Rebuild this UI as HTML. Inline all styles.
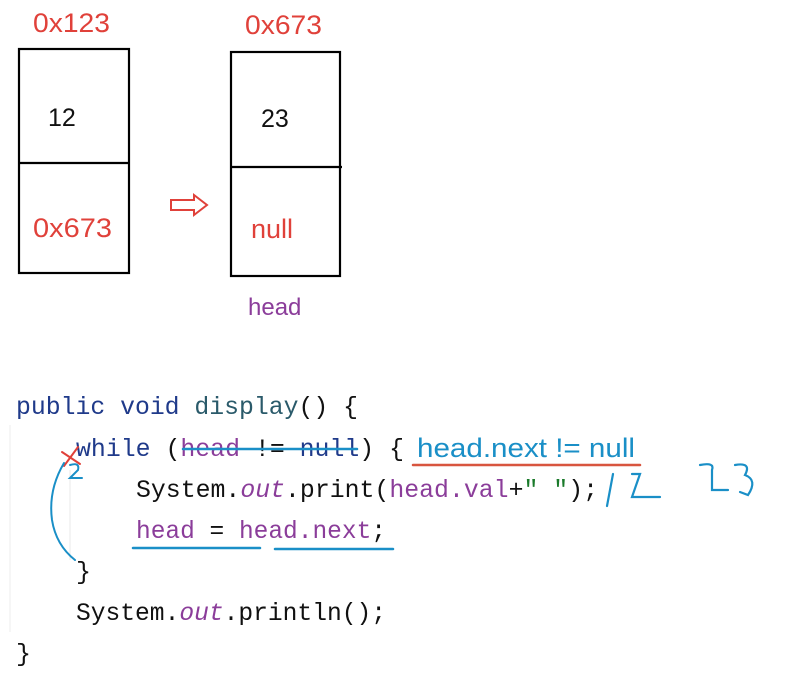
<!DOCTYPE html>
<html><head><meta charset="utf-8"><style>
html,body{margin:0;padding:0;background:#fff;width:787px;height:673px;overflow:hidden}
svg{display:block}
.m{font-family:"Liberation Mono","DejaVu Sans Mono",monospace;font-size:25px}
.s{font-family:"Liberation Sans",sans-serif}
</style></head><body>
<svg width="787" height="673" viewBox="0 0 787 673" xmlns="http://www.w3.org/2000/svg">
<g fill="none" stroke="#000" stroke-width="2.2">
<rect x="19" y="49" width="110" height="224"/>
<line x1="19" y1="163" x2="130" y2="163"/>
<rect x="231" y="52" width="109" height="224"/>
<line x1="231" y1="167" x2="342" y2="167"/>
</g>
<g class="s" font-size="27">
<text x="33" y="32" fill="#e0413a" textLength="77" lengthAdjust="spacingAndGlyphs">0x123</text>
<text x="245" y="34" fill="#e0413a" textLength="77" lengthAdjust="spacingAndGlyphs">0x673</text>
<text x="48" y="126" fill="#111" font-size="25">12</text>
<text x="261" y="127" fill="#111" font-size="25">23</text>
<text x="33" y="237" fill="#e0413a" textLength="79" lengthAdjust="spacingAndGlyphs">0x673</text>
<text x="251" y="238" fill="#e0413a">null</text>
<text x="248" y="315" fill="#8b3d9a" font-size="24">head</text>
</g>
<path d="M171 200 H194 V195 L207 205 L194 215 V210 H171 Z" fill="none" stroke="#e0413a" stroke-width="2"/>
<line x1="10" y1="425" x2="10" y2="632" stroke="#eee" stroke-width="1"/>
<line x1="70" y1="470" x2="70" y2="560" stroke="#e8e8e8" stroke-width="1"/>
<g class="m">
<text x="16" y="414" textLength="342" lengthAdjust="spacingAndGlyphs"><tspan fill="#1f3a8a">public void </tspan><tspan fill="#2a5a6a">display</tspan><tspan fill="#111">() {</tspan></text>
<text x="76" y="456" textLength="328" lengthAdjust="spacingAndGlyphs"><tspan fill="#1f3a8a">while </tspan><tspan fill="#111">(</tspan><tspan fill="#8b3d9a">head</tspan><tspan fill="#111"> != </tspan><tspan fill="#1f3a8a">null</tspan><tspan fill="#111">) {</tspan></text>
<text x="136" y="497" textLength="462" lengthAdjust="spacingAndGlyphs"><tspan fill="#111">System.</tspan><tspan fill="#8b3d9a" font-style="italic">out</tspan><tspan fill="#111">.print(</tspan><tspan fill="#8b3d9a">head.val</tspan><tspan fill="#111">+</tspan><tspan fill="#1a7a2a">" "</tspan><tspan fill="#111">);</tspan></text>
<text x="136" y="538" textLength="250" lengthAdjust="spacingAndGlyphs"><tspan fill="#8b3d9a">head</tspan><tspan fill="#111"> = </tspan><tspan fill="#8b3d9a">head.next</tspan><tspan fill="#111">;</tspan></text>
<text x="76" y="579" fill="#111">}</text>
<text x="76" y="620" textLength="310" lengthAdjust="spacingAndGlyphs"><tspan fill="#111">System.</tspan><tspan fill="#8b3d9a" font-style="italic">out</tspan><tspan fill="#111">.println();</tspan></text>
<text x="16" y="661" fill="#111">}</text>
</g>
<text x="417" y="457" class="s" font-size="27" fill="#1a8fc7" textLength="218" lengthAdjust="spacingAndGlyphs">head.next != null</text>
<g fill="none" stroke-linecap="round">
<line x1="413" y1="465" x2="640" y2="465" stroke="#d8553f" stroke-width="2.5"/>
<line x1="183" y1="449" x2="357" y2="449" stroke="#1a8fc7" stroke-width="2.5"/>
<path d="M133 548 H260 M275 549 H393" stroke="#1a8fc7" stroke-width="2.5"/>
<path d="M62 452 L80 464 M78 447 L64 466" stroke="#e0413a" stroke-width="2"/>
<path d="M70 465 Q80 462 78 470 L70 478 H82" stroke="#1a8fc7" stroke-width="2"/>
<path d="M64 463 Q48 490 52 520 Q56 545 75 560" stroke="#1a8fc7" stroke-width="2"/>
<path d="M613 474 L607 506 M632 474 H640 L632 497 H660" stroke="#1a8fc7" stroke-width="2.2"/>
<path d="M700 465 Q715 462 712 470 L712 490 H728 M735 465 Q752 462 745 475 Q758 480 748 495 L740 492" stroke="#1a8fc7" stroke-width="2.2"/>
</g>
</svg>
</body></html>
